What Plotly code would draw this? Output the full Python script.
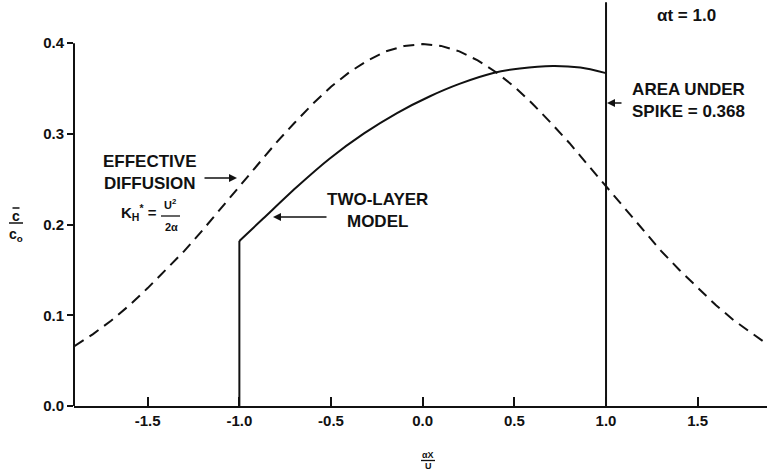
import plotly.graph_objects as go

# ---- data ----
diff_x = [-1.9, -1.8, -1.7, -1.6, -1.5, -1.4, -1.3, -1.2, -1.1, -1.0,
          -0.9, -0.8, -0.7, -0.6, -0.5, -0.4, -0.3, -0.2, -0.1, 0.0,
          0.1, 0.2, 0.3, 0.4, 0.5, 0.6, 0.7, 0.8, 0.9, 1.0,
          1.1, 1.2, 1.3, 1.4, 1.5, 1.6, 1.7, 1.8, 1.88]
diff_y = [0.066, 0.079, 0.094, 0.111, 0.130, 0.150, 0.171, 0.194, 0.218, 0.242,
          0.266, 0.290, 0.312, 0.333, 0.352, 0.368, 0.381, 0.391, 0.397, 0.399,
          0.397, 0.391, 0.381, 0.368, 0.352, 0.333, 0.312, 0.290, 0.266, 0.242,
          0.218, 0.194, 0.171, 0.150, 0.130, 0.111, 0.094, 0.079, 0.068]

two_layer_x = [-1.0, -0.87, -0.69, -0.51, -0.32, -0.14, 0.04, 0.20, 0.385, 0.53, 0.71, 0.86, 1.0]
two_layer_y = [0.182, 0.2067, 0.2409, 0.2724, 0.3005, 0.3230, 0.3415, 0.3551, 0.3671, 0.3722, 0.3749, 0.3731, 0.367]

front_x = -1.0
spike_x = 1.0
spike_top = 0.445

x_ticks = [-1.5, -1.0, -0.5, 0.0, 0.5, 1.0, 1.5]
x_ticktext = ["-1.5", "-1.0", "-0.5", "0.0", "0.5", "1.0", "1.5"]
y_ticks = [0.0, 0.1, 0.2, 0.3, 0.4]
y_ticktext = ["0.0", "0.1", "0.2", "0.3", "0.4"]

X_RANGE = [-1.902, 1.878]
Y_RANGE = [0.0, 0.4454]

# ---- layout geometry (pixels) ----
W, H = 767, 472
ML, MR, MT, MB = 74, 0, 2, 66
PW, PH = W - ML - MR, H - MT - MB


def px(xpix):
    return (xpix - ML) / PW


def py(ypix):
    return (H - MB - ypix) / PH


FONT = "Liberation Sans"
BLACK = "#111111"

fig = go.Figure()

fig.add_trace(go.Scatter(x=diff_x, y=diff_y, mode="lines",
                         line=dict(color=BLACK, width=2, dash="11px,7px"),
                         hoverinfo="skip", showlegend=False))
fig.add_trace(go.Scatter(x=[front_x, front_x], y=[0, two_layer_y[0]], mode="lines",
                         line=dict(color=BLACK, width=2),
                         hoverinfo="skip", showlegend=False))
fig.add_trace(go.Scatter(x=two_layer_x, y=two_layer_y, mode="lines",
                         line=dict(color=BLACK, width=2, shape="spline", smoothing=0.8),
                         hoverinfo="skip", showlegend=False))
fig.add_trace(go.Scatter(x=[spike_x, spike_x], y=[0, spike_top], mode="lines",
                         line=dict(color=BLACK, width=2),
                         hoverinfo="skip", showlegend=False))

annotations = []


def label(text, xpix, ypix, size=17, xanchor="center", yanchor="middle", align="center", family=FONT):
    annotations.append(dict(text=text, x=px(xpix), y=py(ypix), xref="paper", yref="paper",
                            showarrow=False, xanchor=xanchor, yanchor=yanchor, align=align,
                            font=dict(family=family, size=size, color=BLACK, weight="bold")))


def arrow(head_x, head_y, tail_x, tail_y):
    annotations.append(dict(text="", x=px(head_x), y=py(head_y), xref="paper", yref="paper",
                            ax=tail_x - head_x, ay=tail_y - head_y, showarrow=True,
                            arrowhead=2, arrowsize=1.0, arrowwidth=1.6, arrowcolor=BLACK,
                            standoff=0, startstandoff=0))


label("αt = 1.0", 686, 15)
label("AREA UNDER<br>SPIKE = 0.368", 630, 100, xanchor="left")
arrow(607, 103, 623, 103)
label("EFFECTIVE<br>DIFFUSION", 150, 172)
arrow(237, 178, 203, 178)
label("K<sub>H</sub><sup>*</sup> =", 139, 212, size=15)
label("U<sup>2</sup>", 170, 213, size=11, yanchor="bottom")
label("2α", 171, 219, size=11, yanchor="top")
label("TWO-LAYER<br>MODEL", 377, 210)
arrow(273, 217, 328, 217)

# y-axis title fraction (c-bar over c_o)
label("c", 16, 216, size=14)
label("c<sub>o</sub>", 16, 224, size=14, yanchor="top")
# x-axis title fraction (alpha X over U)
label("αX", 428, 455, size=9)
label("U", 428, 466, size=9)

shapes = [
    # y axis line (only up to 0.4)
    dict(type="line", xref="paper", yref="y", x0=0, x1=0, y0=0, y1=0.4,
         line=dict(color=BLACK, width=2)),
    # fraction bars
    dict(type="line", xref="paper", yref="paper", x0=px(9), x1=px(23), y0=py(223), y1=py(223),
         line=dict(color=BLACK, width=1.5)),
    # macron over c
    dict(type="line", xref="paper", yref="paper", x0=px(12.5), x1=px(19.5), y0=py(208), y1=py(208),
         line=dict(color=BLACK, width=1.5)),
    dict(type="line", xref="paper", yref="paper", x0=px(421), x1=px(435), y0=py(460.5), y1=py(460.5),
         line=dict(color=BLACK, width=1.3)),
    dict(type="line", xref="paper", yref="paper", x0=px(161), x1=px(180), y0=py(216), y1=py(216),
         line=dict(color=BLACK, width=1.3)),
]

fig.update_layout(
    width=W, height=H,
    margin=dict(l=ML, r=MR, t=MT, b=MB),
    paper_bgcolor="white", plot_bgcolor="white",
    showlegend=False,
    font=dict(family=FONT, color=BLACK, size=15),
    annotations=annotations,
    shapes=shapes,
    xaxis=dict(range=X_RANGE, tickvals=x_ticks, ticktext=x_ticktext,
               showgrid=False, zeroline=False, showline=True, linecolor=BLACK, linewidth=2,
               ticks="inside", ticklen=9, tickwidth=1.5, tickcolor=BLACK,
               tickfont=dict(family=FONT, size=15, color=BLACK, weight="bold")),
    yaxis=dict(range=Y_RANGE, tickvals=y_ticks, ticktext=y_ticktext,
               showgrid=False, zeroline=False, showline=False,
               ticks="outside", ticklen=6, tickwidth=1.5, tickcolor=BLACK,
               tickfont=dict(family=FONT, size=15, color=BLACK, weight="bold")),
)

fig.write_html("out.html")
